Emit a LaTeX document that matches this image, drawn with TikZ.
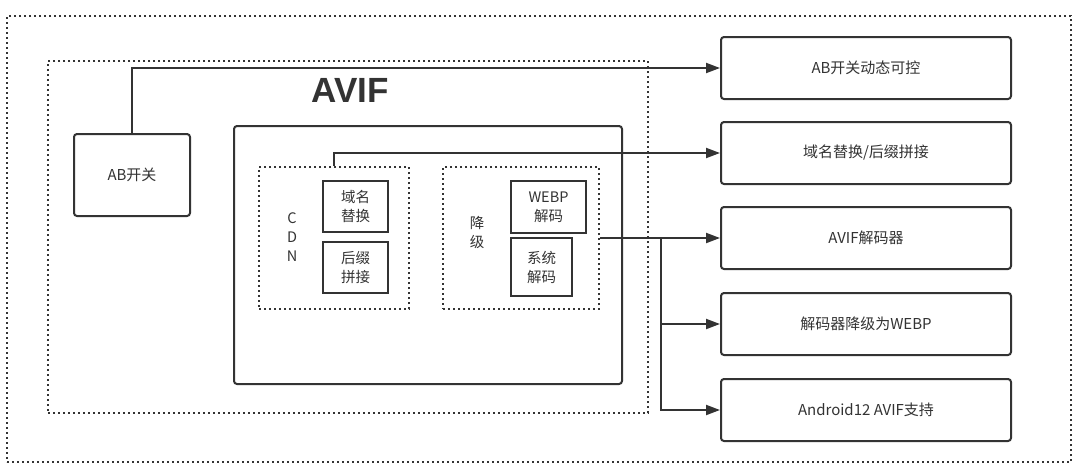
\documentclass[tikz,border=0pt]{standalone}
\usepackage{fontspec}
\setmainfont{Noto Sans CJK SC}
\newfontfamily\avfont{Liberation Sans}
\usetikzlibrary{arrows.meta}
\definecolor{ink}{HTML}{333333}
\begin{document}
\begin{tikzpicture}[x=1pt,y=-1pt,
  every node/.style={inner sep=0pt, text=ink},
  dotbox/.style={draw=ink, line width=2pt, dash pattern=on 2pt off 3pt, minimum width=#1},
  rbox/.style={draw=ink, line width=2pt, rounded corners=3pt, font=\fontsize{15}{18}\selectfont},
  sbox/.style={draw=ink, line width=2.4pt, font=\fontsize{14.5}{19}\selectfont, align=center},
  lbl/.style={font=\fontsize{14.5}{19}\selectfont, align=center},
  conn/.style={draw=ink, line width=2pt},
  arr/.style={conn, -{Triangle[length=14pt,width=10pt]}}
]
\useasboundingbox (0,0) rectangle (1080,467);
\fill[white] (0,0) rectangle (1080,467);

% containers
\node[dotbox=1064pt, minimum height=446pt] (outer) at (539,239) {};
\node[dotbox=600pt, minimum height=352pt] (avif) at (348,237) {};
\node[font=\avfont\bfseries\fontsize{35}{40}\selectfont] (avift) at (350,90.5) {AVIF};
\node[rbox, minimum width=388pt, minimum height=258pt] (inner) at (428,255) {};
\node[dotbox=150pt, minimum height=142pt] (cdn) at (334,238) {};
\node[dotbox=156pt, minimum height=142pt] (jj) at (521,238) {};

% left box
\node[rbox, minimum width=116pt, minimum height=82pt] (ab) at (132,175) {AB开关};

% CDN inner
\node[lbl] (cdnl) at (292,237) {C\\D\\N};
\node[sbox, minimum width=65pt, minimum height=51pt] (d1) at (355.5,206.5) {域名\\替换};
\node[sbox, minimum width=65pt, minimum height=51pt] (d2) at (355.5,267.5) {后缀\\拼接};

% 降级 inner
\node[lbl] (jjl) at (477,232) {降\\级};
\node[sbox, minimum width=75pt, minimum height=52pt] (w1) at (548.5,207) {WEBP\\解码};
\node[sbox, minimum width=61pt, minimum height=58pt] (w2) at (541.5,267) {系统\\解码};

% right boxes
\node[rbox, minimum width=290pt, minimum height=62pt] (r1) at (866,68) {AB开关动态可控};
\node[rbox, minimum width=290pt, minimum height=62pt] (r2) at (866,153) {域名替换/后缀拼接};
\node[rbox, minimum width=290pt, minimum height=62pt] (r3) at (866,238) {AVIF解码器};
\node[rbox, minimum width=290pt, minimum height=62pt] (r4) at (866,324) {解码器降级为WEBP};
\node[rbox, minimum width=290pt, minimum height=62pt] (r5) at (866,410) {Android12 AVIF支持};

% connectors
\coordinate (br) at (661,238);
\draw[arr] (ab.north) |- (r1.west);
\draw[arr] (cdn.north) |- (r2.west);
\draw[arr] (jj.east) -- (r3.west);
\draw[arr] (br) |- (r4.west);
\draw[arr] (br) |- (r5.west);
\end{tikzpicture}
\end{document}
